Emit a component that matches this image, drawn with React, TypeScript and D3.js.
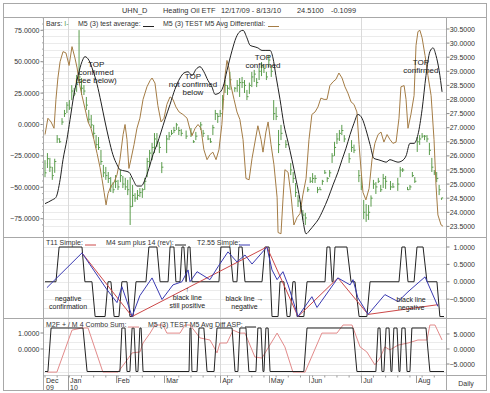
import React from 'react';
import * as d3 from 'd3';

// trading-day index 0 = 12/17/09, 164 = 8/13/10
const months = ['Dec', 'Jan', 'Feb', 'Mar', 'Apr', 'May', 'Jun', 'Jul', 'Aug'];
const monthDays = [0, 10, 29.5, 49.5, 72.5, 92.5, 109, 130.5, 153];
const years = [['09', 0], ['10', 10]] as [string, number][];
const gridDays = [10, 72.5, 130.5];

const titleParts: [string, number][] = [
  ['UHN_D', 122], ['Heating Oil ETF', 163], ['12/17/09 - 8/13/10', 221], ['24.5100', 297], ['-0.1099', 331],
];

const leftTicks1 = [75, 50, 25, 0, -25, -50, -75];
const rightTicks1 = [30.5, 30, 29.5, 29, 28.5, 28, 27.5, 27, 26.5, 26, 25.5, 25, 24.5, 24, 23.5];
const rightTicks2 = [1, 0.5, 0, -0.5];
const leftTicks3 = [1, 0];
const rightTicks3 = [5, 0, -5];

// [day, high, low, close]
const greenBars: [number, number, number, number][] = [
  [0, 25.85, 25.25, 25.4], [1, 26.1, 25.57, 25.9], [2, 25.93, 25.43, 25.6], [3, 25.61, 25.15, 25.3],
  [4, 25.9, 25.4, 25.8], [5, 26.74, 26.46, 26.6], [6, 26.63, 26.46, 26.5], [7, 27.34, 27.1, 27.2],
  [8, 27.63, 27.38, 27.5], [9, 27.91, 27.52, 27.8], [10, 27.98, 27.63, 27.7], [11, 28.51, 27.98, 28.3],
  [12, 28.41, 28.12, 28.2], [13, 28.87, 28.27, 28.6], [14, 30.46, 28.62, 28.8], [15, 28.76, 28.16, 28.4],
  [16, 28.51, 28.16, 28.3], [17, 28.09, 27.63, 27.8], [18, 27.63, 27.17, 27.3], [19, 27.45, 26.99, 27.1],
  [20, 27.1, 26.63, 26.8], [21, 26.74, 26.28, 26.4], [22, 26.67, 26.21, 26.3], [23, 26.21, 25.68, 25.8],
  [24, 25.68, 25.25, 25.4], [25, 25.61, 25.15, 25.3], [26, 25.43, 25.04, 25.2], [27, 25.25, 24.72, 24.9],
  [28, 25.07, 24.68, 24.8], [29, 25.32, 24.86, 25.1], [30, 25.15, 24.79, 24.9], [31, 25.5, 25.07, 25.3],
  [32, 25.29, 24.86, 25.0], [33, 25.22, 24.79, 24.9], [34, 25.15, 24.61, 24.8], [35, 25.25, 23.55, 24.2],
  [36, 24.97, 24.19, 24.6], [37, 24.68, 24.37, 24.5], [38, 24.79, 24.44, 24.6], [39, 24.86, 24.54, 24.7],
  [40, 24.86, 24.51, 24.8], [41, 25.22, 24.79, 25.1], [42, 25.93, 25.25, 25.8], [43, 26.21, 25.61, 26.1],
  [44, 26.46, 25.85, 26.3], [45, 26.81, 26.1, 26.6], [46, 26.81, 26.32, 26.5], [47, 26.49, 26.1, 26.3],
  [48, 25.78, 25.39, 25.6], [50, 26.74, 26.1, 26.6], [51, 26.85, 26.56, 26.7], [52, 26.92, 26.74, 26.8],
  [53, 27.03, 26.81, 26.9], [54, 27.17, 26.92, 27.1], [55, 27.03, 26.74, 26.9], [56, 26.95, 26.7, 26.8],
  [58, 26.9, 26.6, 26.7], [60, 26.99, 26.67, 26.8], [61, 26.56, 26.46, 26.5], [62, 26.85, 26.56, 26.7],
  [64, 27.2, 26.92, 27.1], [65, 26.92, 26.67, 26.8], [67, 26.74, 26.56, 26.6], [68, 26.63, 26.46, 26.5],
  [69, 27.1, 26.74, 27.0], [70, 27.63, 27.27, 27.5], [71, 27.52, 27.17, 27.4], [72, 27.63, 27.38, 27.5],
  [73, 28.16, 27.63, 28.0], [74, 28.69, 28.23, 28.5], [75, 28.51, 28.16, 28.4], [76, 28.98, 28.34, 28.7],
  [78, 28.44, 28.27, 28.4], [79, 28.69, 28.27, 28.5], [80, 28.76, 28.09, 28.6], [81, 28.8, 28.41, 28.6],
  [82, 28.69, 28.23, 28.5], [83, 28.34, 27.98, 28.1], [84, 28.6, 28.2, 28.5], [85, 28.98, 28.44, 28.8],
  [86, 29.05, 28.62, 28.9], [87, 28.76, 28.44, 28.6], [88, 29.12, 28.69, 29.0], [89, 29.33, 28.83, 29.2],
  [90, 29.22, 28.94, 29.1], [91, 28.98, 28.69, 28.8], [92, 29.58, 29.15, 29.4], [93, 29.22, 28.8, 29.0],
  [94, 27.98, 27.27, 27.5], [95, 27.73, 27.27, 27.4], [96, 26.92, 26.1, 26.4], [97, 27.1, 26.56, 26.8],
  [99, 26.56, 26.28, 26.4], [101, 25.75, 25.32, 25.5], [102, 25.43, 25.04, 25.2], [103, 25.04, 24.54, 24.7],
  [104, 24.61, 24.19, 24.4], [105, 24.37, 24.12, 24.2], [106, 24.08, 23.73, 23.9], [107, 23.98, 23.55, 23.8],
  [108, 24.9, 24.72, 24.8], [109, 25.25, 25.04, 25.1], [110, 25.39, 25.04, 25.2], [111, 25.32, 25.04, 25.2],
  [112, 24.9, 24.68, 24.8], [113, 24.9, 24.79, 24.8], [114, 25.15, 24.97, 25.1], [115, 25.5, 25.36, 25.4],
  [116, 25.25, 25.07, 25.2], [117, 25.5, 25.25, 25.4], [118, 26.1, 25.75, 26.0], [119, 26.5, 26.0, 26.3],
  [120, 26.81, 26.42, 26.6], [121, 26.92, 26.53, 26.8], [122, 27.1, 26.74, 26.9], [123, 26.74, 26.49, 26.6],
  [125, 26.1, 25.75, 25.9], [126, 26.56, 26.14, 26.3], [127, 26.4, 26.1, 26.2], [129, 25.5, 25.07, 25.3],
  [130, 25.25, 24.79, 24.9], [131, 24.44, 23.76, 24.0], [132, 24.29, 23.66, 23.9], [133, 24.26, 23.73, 24.0],
  [134, 24.6, 24.2, 24.5], [135, 25.15, 24.83, 25.0], [136, 25.07, 24.65, 24.9], [137, 25.22, 25.04, 25.1],
  [138, 24.97, 24.72, 24.8], [139, 25.36, 24.86, 25.2], [140, 25.29, 24.83, 25.1], [142, 25.11, 24.79, 24.9],
  [143, 25.04, 24.86, 24.9], [145, 25.22, 24.76, 25.0], [146, 25.61, 25.25, 25.5], [147, 25.57, 25.43, 25.5],
  [149, 24.9, 24.79, 24.8], [150, 24.97, 24.79, 24.9], [151, 25.43, 25.25, 25.3], [152, 25.25, 25.04, 25.1],
  [153, 26.67, 26.14, 26.5], [154, 26.74, 26.39, 26.6], [155, 26.81, 26.63, 26.7], [156, 26.74, 26.56, 26.7],
  [157, 26.74, 26.49, 26.6], [158, 26.46, 26.03, 26.2], [159, 25.93, 25.43, 25.6], [160, 25.5, 25.32, 25.4],
  [161, 25.43, 25.07, 25.2], [162, 24.97, 24.61, 24.8], [163, 24.51, 24.44, 24.51],
];

// M5 (3) test average [day, value]
const testAvg: [number, number][] = [
  [0, -63], [3, -60], [4.5, -58], [6.2, -44], [7.4, -28], [9, -12], [10.3, 4], [11.9, 24], [13.6, 39],
  [15.2, 50], [16.4, 54], [18.1, 51], [19.7, 43], [21.4, 32], [23, 18], [24.7, 2], [26.3, -12], [27.9, -24],
  [29.6, -32], [30.8, -36], [32.9, -37], [34.5, -38], [36.2, -44], [37.8, -49], [39.5, -49], [41.1, -44],
  [42.7, -35], [44.4, -24], [46, -16], [47.7, -6], [49.3, 4], [51.4, 16], [53.4, 28], [55.5, 37], [57.1, 41],
  [58.8, 42], [60.4, 39], [62.1, 44], [63.7, 46], [65.3, 42], [67, 35], [68.6, 30], [69.9, 24], [71.5, 25],
  [73.2, 30], [74.8, 43], [76.9, 59], [78.5, 69], [80.1, 74], [81.4, 75], [83, 69], [84.3, 63], [85.9, 62],
  [87.5, 61], [89.2, 59], [90.8, 59], [92.5, 59], [93.7, 53], [94.9, 39], [96.6, 20], [98.2, 0], [99.9, -14],
  [101.5, -28], [103.2, -44], [104.8, -60], [106, -76], [107.3, -87], [108.9, -84], [110.6, -80], [112.2, -76],
  [114.3, -68], [116.3, -59], [118.4, -48], [120.4, -38], [122.1, -28], [123.7, -19], [125.4, -8], [127, 1],
  [128.6, 8], [130.3, 5], [131.9, -4], [133.6, -16], [135.2, -27], [136.9, -28], [138.5, -29], [140.2, -30],
  [141.8, -28], [143.4, -29], [145.1, -30], [146.7, -29], [148.4, -25], [150, -15], [151.7, -15], [153.3, -8],
  [155, 12], [156.6, 39], [158.2, 58], [159.5, 61], [160.7, 55], [162, 43], [163.2, 26],
];

// M5 (3) TEST M5 Avg Differential [day, value]
const avgDiff: [number, number][] = [
  [0, -8], [1.2, 5], [2.5, 2], [3.7, -3], [4.5, 20], [5.3, 37], [6.2, 50], [7.4, 58], [8.6, 57], [9.9, 47],
  [11.1, 62], [12.3, 53], [13.2, 45], [14, 34], [15.2, 23], [16.4, 13], [17.7, 2], [18.9, -3], [20.1, -12],
  [21.4, -23], [22.6, -34], [23.4, -43], [24.3, -54], [25.1, -64], [25.9, -55], [27.1, -49], [28.4, -46],
  [29.6, -40], [30.8, -28], [32.1, -8], [32.9, 0], [33.7, -12], [34.5, -35], [35.3, -28], [36.6, -16],
  [37.8, -3], [39, 5], [40.3, 20], [41.9, 30], [43.2, 35], [44, 37], [45.2, 33], [46.4, 15], [47.7, 2],
  [48.9, 5], [50.1, 16], [51.4, 22], [52.6, 20], [53.8, 14], [55.1, 10], [56.7, 8], [58.4, 5], [59.6, -4],
  [60.4, -9], [61.7, -3], [62.9, 0], [64.1, -3], [65.3, -20], [66.6, -28], [67.8, -24], [69, -22], [70.3, -28],
  [71.5, -20], [72.7, 0], [74, 39], [74.8, 51], [75.6, 45], [76.4, 31], [77.7, 20], [78.9, 10], [80.1, 4],
  [81.4, -12], [82.6, -43], [83.9, -44], [85.1, -27], [86.3, -14], [87.5, -1], [88.8, -12], [89.6, -22],
  [90.8, -6], [91.7, 2], [92.9, -16], [94.1, -32], [95.4, -58], [95.8, -86], [97, -87], [97.8, -60],
  [98.6, -36], [99.9, -38], [101.1, -56], [102.3, -80], [103.6, -74], [104.8, -71], [106, -56], [107.3, -43],
  [108.5, -12], [109.7, 8], [111, 10], [112.2, 14], [113.4, 21], [114.7, 20], [115.9, 20], [117.1, 31],
  [118.4, 34], [119.6, 36], [120.8, 41], [122.1, 37], [123.3, 30], [124.5, 25], [125.8, 18], [127, 16],
  [128.2, 10], [129.1, -16], [129.9, -36], [130.7, -54], [131.9, -60], [133.2, -51], [134.4, -28], [135.6, -15],
  [136.9, -8], [138.1, -6], [139.3, -14], [140.6, -8], [141.8, -12], [143, -15], [144.3, -14], [145.5, 5],
  [146.3, 30], [147.6, 31], [148.4, 20], [149.2, -3], [150.4, 8], [151.7, 23], [152.5, 63], [153.3, 74],
  [154.1, 75], [155, 69], [156.2, 55], [157.4, 39], [158.7, 23], [159.9, -12], [160.7, -48], [161.5, -72],
  [162.8, -80], [163.6, -81],
];

// panel 2
const m4Sum: [number, number][] = [
  [0, 0], [4.5, 0], [5.8, 1], [15.2, 1], [16.4, 0], [19.3, 0], [20.6, -1], [24.7, -1], [25.9, 0], [27.1, 0],
  [28.4, -1], [30.4, -1], [31.6, 0], [33.7, 0], [34.9, -1], [36.2, -1], [37.4, 0], [41.5, 0], [42.7, 1],
  [46, 1], [47.3, 0], [50.6, 0], [51.4, 1], [53, 1], [53.8, 0], [55.5, 0], [56.3, 1], [57.1, 1], [58, 0],
  [58.8, 1], [59.6, 1], [60.4, 0], [71.5, 0], [72.3, 1], [76, 1], [77.3, 0], [78.9, 0], [79.7, 1], [81, 1],
  [82.2, 0], [89.2, 0], [90.4, 1], [92.1, 1], [93.3, -1], [95.8, -1], [96.6, 0], [98.2, 0], [99.5, -1],
  [100.7, -1], [101.9, 0], [102.8, 0], [103.6, -1], [106.4, -1], [107.7, 0], [115.1, 0], [115.9, 1],
  [117.1, 1], [118, 0], [118.4, 0], [119.2, 1], [124.1, 1], [125.8, 0], [127.4, 0], [129.1, -1], [132.3, -1],
  [133.6, 0], [145.5, 0], [146.7, 1], [148, 1], [149.2, 0], [151.7, 0], [152.9, 1], [155.4, 1], [157, 0],
  [161.1, 0], [162.3, -1], [164, -1],
];
const t255: [number, number][] = [
  [0.8, -0.17], [15.2, 0.83], [25.5, -0.23], [29.6, -0.6], [31.6, -0.14], [35.8, -1], [39, -0.4], [44, 0.11],
  [48.1, -0.51], [52.6, -0.09], [56.3, 0], [58.8, 0.34], [59.6, 0], [62.5, 0.29], [67.8, 0.06], [71.1, 0.43],
  [75.2, 0.86], [78.9, 0.57], [82.2, 0.77], [85.1, 0.51], [91.2, 1], [93.3, 0.34], [95.4, 0.06], [97.8, 0.29],
  [99.9, -0.09], [104, -1], [109.7, -0.43], [111.8, -0.74], [120.4, 0.11], [125.4, -0.09], [126.6, 0.06],
  [128.6, -0.46], [132.8, -0.94], [139.7, -0.37], [145.1, -0.57], [149.2, -0.29], [156.2, 0.14], [161.5, -0.71],
];
const t11: [number, number][] = [
  [15.2, 0.83], [35.8, -1], [91.2, 1], [104, -1], [120.4, 0.11], [132.8, -0.94], [161.5, -0.66],
];

// panel 3
const comboSum: [number, number][] = [
  [0, -1], [1.2, -1], [2.5, 1], [15.6, 1], [17.3, -1], [30.8, -1], [31.6, 1], [32.9, 1], [33.7, -1], [34.9, -1],
  [35.8, 1], [36.6, 1], [37.4, -1], [38.2, -1], [39, 1], [39.5, 1], [40.3, -1], [59.2, -1], [59.6, 1], [60, 1],
  [60.4, -1], [62.5, -1], [63.3, 1], [65.3, 1], [66.6, -1], [69.5, -1], [70.7, 1], [76.9, 1], [78.1, -1],
  [79.3, -1], [80.1, 1], [82.6, 1], [83.8, -1], [86.7, -1], [87.5, 1], [88.8, 1], [89.6, -1], [90, -1],
  [90.8, 1], [91.7, 1], [92.5, -1], [106.4, -1], [107.7, 1], [126.6, 1], [128.2, -1], [136, -1], [136.9, 1],
  [137.7, 1], [138.5, -1], [139.3, -1], [140.2, 1], [141.4, 1], [142.2, -1], [142.6, -1], [143.4, 1],
  [144.7, 1], [145.5, -1], [145.9, -1], [146.7, 1], [148, 1], [148.8, -1], [150, -1], [150.8, 1], [156.6, 1],
  [158.2, -1], [164, -1],
];
const diffAsp: [number, number][] = [
  [0.8, -7.7], [4.9, -7.7], [11.1, 6.3], [15.2, 7], [17.7, 7], [23.8, -7.7], [30, -7.7], [33.7, -3.7],
  [35.8, -1.3], [39, -1], [40.3, 2], [43.2, 5.3], [45.2, 8], [48.5, 8], [50.1, 5.3], [55.5, 5.3], [57.5, 8],
  [59.6, 8], [63.7, 3.7], [67.8, 3], [69, 1.3], [70.7, -1.3], [71.9, 2], [74.8, 2], [77.3, 6.3], [80.1, 5.3],
  [82.2, 5.3], [86.3, -2.7], [89.2, -3], [95.4, 5.3], [98.6, 0.7], [101.9, -7.7], [106.9, -7.7], [113.8, 5.3],
  [120, 5.3], [122.5, 8], [126.2, 8], [129.5, 0.7], [132.3, -1], [135.6, -5.3], [137.7, -3], [139.7, 0.7],
  [141.8, -0.3], [145.1, 1.3], [149.2, 2], [153.3, 3], [157, 3], [158.2, 8], [160.3, 8], [163.2, 3],
];

// annotations: [lines, day, value]
const notes1: [string[], number, number][] = [
  [['TOP', 'confirmed', '(see below)'], 21, 46],
  [['TOP', 'not confirmed', 'below'], 60.8, 36],
  [['TOP', 'confirmed'], 89.6, 51],
  [['TOP', 'confirmed'], 154.5, 47],
];
const notes2: [string[], number, number][] = [
  [['negative', 'confirmation'], 9.5, -0.55],
  [['\u2191', 'black line', 'still positive'], 58.5, -0.3],
  [['black line \u2192', 'negative'], 82, -0.55],
  [['black line', 'negative'], 150.5, -0.58],
];

const FONT = 'Liberation Sans, Arial, Helvetica, sans-serif';

export default function App() {
  const x = d3.scaleLinear().domain([0, 164]).range([45, 444]);
  const yL1 = d3.scaleLinear().domain([-75, 75]).range([218.7, 30.3]);
  const yR1 = d3.scaleLinear().domain([23.5, 30.5]).range([226.4, 29]);
  const y2 = d3.scaleLinear().domain([-1, 1]).range([316.5, 247]);
  const yL3 = d3.scaleLinear().domain([0, 1]).range([349, 333]);
  const yR3 = d3.scaleLinear().domain([-5, 5]).range([364, 334]);
  const yB3 = d3.scaleLinear().domain([-1, 1]).range([371.5, 328]);

  const fmt = d3.format('.4f');
  const mk = (ys: d3.ScaleLinear<number, number>, curve = d3.curveLinear) =>
    d3.line<[number, number]>().x(d => x(d[0])).y(d => ys(d[1])).curve(curve);

  const L = 43.5, R = 446.5;
  const grid1 = d3.range(23.5, 30.51, 0.25);
  const grid2 = d3.range(-1, 1.01, 0.25);
  const grid3 = d3.range(-7.5, 7.6, 2.5);
  const weekTicks = d3.range(0, 165, 5);

  return (
    <svg width={490} height={393} style={{ position: 'absolute', left: 0, top: 0, background: '#fff' }}
      fontFamily={FONT}>
      <rect x={0} y={0} width={490} height={393} fill="#fff" />
      {/* grids */}
      <g stroke="#ebebeb" strokeWidth={1}>
        {grid1.map(v => <line key={'g1' + v} x1={L} x2={R} y1={Math.round(yR1(v)) + 0.5} y2={Math.round(yR1(v)) + 0.5} />)}
        {grid2.map(v => <line key={'g2' + v} x1={L} x2={R} y1={Math.round(y2(v)) + 0.5} y2={Math.round(y2(v)) + 0.5} />)}
        {grid3.map(v => <line key={'g3' + v} x1={L} x2={R} y1={Math.round(yR3(v)) + 0.5} y2={Math.round(yR3(v)) + 0.5} />)}
      </g>
      <g stroke="#dadada">
        {gridDays.map(d => <line key={'vg' + d} x1={Math.round(x(d - 0.5)) + 0.5} x2={Math.round(x(d - 0.5)) + 0.5} y1={18} y2={375} />)}
      </g>

      {/* frame */}
      <rect x={3.5} y={3.5} width={483} height={387} fill="none" stroke="#a8a8a8" />
      <g stroke="#a8a8a8">
        <line x1={3.5} x2={486.5} y1={17.5} y2={17.5} />
        <line x1={3.5} x2={486.5} y1={237.5} y2={237.5} />
        <line x1={3.5} x2={486.5} y1={318.5} y2={318.5} />
        <line x1={R} x2={486.5} y1={375.5} y2={375.5} />
        <line x1={L} x2={L} y1={17.5} y2={390.5} />
        <line x1={R} x2={R} y1={17.5} y2={390.5} />
      </g>
      <g fontSize={7.4} fill="#333">
        {titleParts.map(([t, px]) => <text key={t} x={px} y={13}>{t}</text>)}
      </g>

      {/* axes */}
      <g fontSize={7} fill="#333">
        {leftTicks1.map(v => (
          <g key={'l1' + v}>
            <line x1={L - 3} x2={L} y1={yL1(v)} y2={yL1(v)} stroke="#888" />
            <text x={L - 4} y={yL1(v) + 2.5} textAnchor="end">{fmt(v)}</text>
          </g>
        ))}
        {d3.range(-85, 86, 5).map(v => (
          <line key={'lm' + v} x1={L - 1.5} x2={L} y1={yL1(v)} y2={yL1(v)} stroke="#aaa" />
        ))}
        {rightTicks1.map(v => (
          <g key={'r1' + v}>
            <line x1={R} x2={R + 3} y1={yR1(v)} y2={yR1(v)} stroke="#888" />
            <text x={475} y={yR1(v) + 2.5} textAnchor="end">{fmt(v)}</text>
          </g>
        ))}
        {rightTicks2.map(v => (
          <g key={'r2' + v}>
            <line x1={R} x2={R + 3} y1={y2(v)} y2={y2(v)} stroke="#888" />
            <text x={475} y={y2(v) + 2.5} textAnchor="end">{fmt(v)}</text>
          </g>
        ))}
        {leftTicks3.map(v => (
          <g key={'l3' + v}>
            <line x1={L - 3} x2={L} y1={yL3(v)} y2={yL3(v)} stroke="#888" />
            <text x={L - 4} y={yL3(v) + 2.5} textAnchor="end">{fmt(v)}</text>
          </g>
        ))}
        {rightTicks3.map(v => (
          <g key={'r3' + v}>
            <line x1={R} x2={R + 3} y1={yR3(v)} y2={yR3(v)} stroke="#888" />
            <text x={475} y={yR3(v) + 2.5} textAnchor="end">{fmt(v)}</text>
          </g>
        ))}
      </g>

      {/* panel 1 series */}
      <g stroke="#5a9c4c" strokeWidth={1}>
        {greenBars.map(b => (
          <g key={'b' + b[0]}>
            <line x1={x(b[0])} x2={x(b[0])} y1={yR1(b[1])} y2={yR1(b[2])} />
            <line x1={x(b[0])} x2={x(b[0]) + 1.6} y1={yR1(b[3])} y2={yR1(b[3])} />
          </g>
        ))}
      </g>
      <path d={mk(yL1)(avgDiff) || ''} fill="none" stroke="#a47c45" strokeWidth={1} />
      <path d={mk(yL1, d3.curveMonotoneX)(testAvg) || ''} fill="none" stroke="#222" strokeWidth={1} />

      {/* panel 2 series */}
      <path d={mk(y2)(m4Sum) || ''} fill="none" stroke="#222" strokeWidth={1} />
      <path d={mk(y2)(t11) || ''} fill="none" stroke="#cc4848" strokeWidth={1} />
      <path d={mk(y2)(t255) || ''} fill="none" stroke="#3a3ab2" strokeWidth={1} />

      {/* panel 3 series */}
      <path d={mk(yR3)(diffAsp) || ''} fill="none" stroke="#e28a8a" strokeWidth={1} />
      <path d={mk(yB3)(comboSum) || ''} fill="none" stroke="#222" strokeWidth={1} />

      {/* legends */}
      <g fontSize={7} fill="#333">
        <text x={46} y={26}>Bars: <tspan fill="#5a9c4c">I-</tspan></text>
        <text x={78} y={26}>M5 (3) test average:</text>
        <line x1={143} x2={154} y1={26.5} y2={26.5} stroke="#222" />
        <text x={163} y={26}>M5 (3) TEST M5 Avg Differential:</text>
        <line x1={268} x2={279} y1={26.5} y2={26.5} stroke="#a47c45" />

        <text x={46} y={244.5}>T11 Simple:</text>
        <line x1={85} x2={96} y1={245} y2={245} stroke="#cc4848" />
        <text x={106} y={244.5}>M4 sum plus 14 (rev):</text>
        <line x1={175} x2={186} y1={245} y2={245} stroke="#222" />
        <text x={197} y={244.5}>T2.55 Simple:</text>
        <line x1={239} x2={250} y1={245} y2={245} stroke="#3a3ab2" />

        <text x={46} y={326.5}>M2F + / M 4 Combo Sum:</text>
        <line x1={128} x2={139} y1={327} y2={327} stroke="#e28a8a" />
        <text x={148} y={326.5}>M5 (3) TEST M5 Avg Diff ASP:</text>
        <line x1={245} x2={256} y1={327} y2={327} stroke="#222" />
      </g>

      {/* annotations */}
      <g fontSize={8} fill="#222" textAnchor="middle">
        {notes1.map(([lines, d, v], i) => (
          <text key={'n1' + i} x={x(d)} y={yL1(v)}>
            {lines.map((t, j) => <tspan key={j} x={x(d)} dy={j === 0 ? 0 : 8}>{t}</tspan>)}
          </text>
        ))}
      </g>
      <g fontSize={7} fill="#222" textAnchor="middle">
        {notes2.map(([lines, d, v], i) => (
          <text key={'n2' + i} x={x(d)} y={y2(v)}>
            {lines.map((t, j) => <tspan key={j} x={x(d)} dy={j === 0 ? 0 : 8}>{t}</tspan>)}
          </text>
        ))}
      </g>

      {/* date axis */}
      <line x1={L} x2={R} y1={375.5} y2={375.5} stroke="#999" strokeDasharray="1,1" />
      <g stroke="#999">
        {weekTicks.map(d => <line key={'wt' + d} x1={x(d)} x2={x(d)} y1={375.5} y2={377.5} />)}
        {monthDays.slice(1).map((d, i) => (
          <line key={'ms' + d} x1={Math.round(x(d - 0.5)) + 0.5} x2={Math.round(x(d - 0.5)) + 0.5}
            y1={375.5} y2={i === 0 ? 390.5 : 383} />
        ))}
      </g>
      <g fontSize={7} fill="#333">
        {months.map((m, i) => (
          <text key={m} x={i === 0 ? 46 : x(monthDays[i] - 0.5) + 2} y={382.5}>{m}</text>
        ))}
        {years.map(([t, d]) => (
          <text key={t} x={d === 0 ? 46 : x(d - 0.5) + 2} y={389.5}>{t}</text>
        ))}
        <text x={466} y={385.5} textAnchor="middle">Daily</text>
      </g>
    </svg>
  );
}
